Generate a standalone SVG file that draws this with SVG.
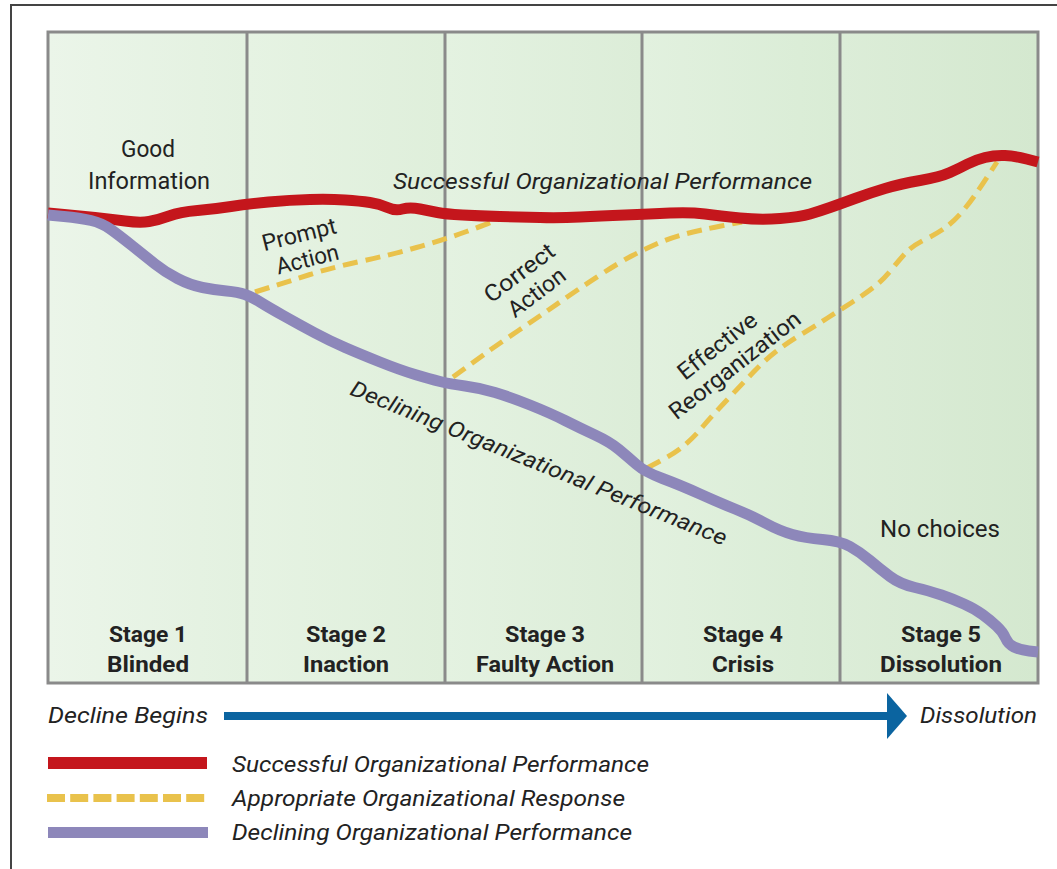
<svg xmlns="http://www.w3.org/2000/svg" width="1057" height="869" viewBox="0 0 1057 869">
  <style>
    text { font-family: Roboto, "Liberation Sans", sans-serif; fill: #222; }
    .lbl { font-size: 23px; }
    .it { font-size: 22px; font-style: italic; }
    .stage { font-size: 22px; font-weight: bold; text-anchor: middle; }
    .mid { text-anchor: middle; }
    .divider { stroke: #8a8a8a; stroke-width: 3; }
    .success { fill: none; stroke: #c4161c; stroke-width: 11; stroke-linejoin: round; stroke-linecap: butt; }
    .decline { fill: none; stroke: #8d87ba; stroke-width: 11; stroke-linejoin: round; stroke-linecap: butt; }
    .response { fill: none; stroke: #e9c24c; stroke-width: 5; stroke-dasharray: 15 8; stroke-linejoin: round; }
  </style>
  <defs>
    <linearGradient id="colA" x1="0" y1="0" x2="1" y2="0">
      <stop offset="0" stop-color="#ebf5e9"/>
      <stop offset="1" stop-color="#e3f1e0"/>
    </linearGradient>
    <linearGradient id="colB" x1="0" y1="0" x2="1" y2="0">
      <stop offset="0" stop-color="#e6f3e3"/>
      <stop offset="1" stop-color="#dfefdb"/>
    </linearGradient>
    <linearGradient id="colC" x1="0" y1="0" x2="1" y2="0">
      <stop offset="0" stop-color="#e4f2e1"/>
      <stop offset="1" stop-color="#dcedd8"/>
    </linearGradient>
    <linearGradient id="colD" x1="0" y1="0" x2="1" y2="0">
      <stop offset="0" stop-color="#e2f1df"/>
      <stop offset="1" stop-color="#d9ecd5"/>
    </linearGradient>
    <linearGradient id="colE" x1="0" y1="0" x2="1" y2="0">
      <stop offset="0" stop-color="#dcedd8"/>
      <stop offset="1" stop-color="#d4e8cf"/>
    </linearGradient>
  </defs>

  <rect width="1057" height="869" fill="#ffffff"/>
  <!-- outer frame -->
  <rect x="11" y="5" width="1100" height="900" fill="none" stroke="#444" stroke-width="2"/>

  <!-- stage columns -->
  <g id="columns">
    <rect x="48" y="32" width="199" height="651" fill="url(#colA)"/>
    <rect x="247" y="32" width="198" height="651" fill="url(#colB)"/>
    <rect x="445" y="32" width="197" height="651" fill="url(#colC)"/>
    <rect x="642" y="32" width="198" height="651" fill="url(#colD)"/>
    <rect x="840" y="32" width="198" height="651" fill="url(#colE)"/>
    <line class="divider" x1="247" y1="32" x2="247" y2="683"/>
    <line class="divider" x1="445" y1="32" x2="445" y2="683"/>
    <line class="divider" x1="642" y1="32" x2="642" y2="683"/>
    <line class="divider" x1="840" y1="32" x2="840" y2="683"/>
    <rect x="48" y="32" width="990" height="651" fill="none" stroke="#8a8a8a" stroke-width="3"/>
  </g>

  <!-- performance curves -->
  <g id="connectors">
    <path id="prompt-action" class="response" d="M255,292 L272.5,286.5 Q290,281 310,274.5 Q330,268 360,261.5 Q390,255 416.5,247.5 Q443,240 466.5,231.5 Q490,223 496,220 L502,217"/>
    <path id="correct-action" class="response" d="M453,377 L464,369 Q475,361 486,353 Q497,345 518.5,330.5 Q540,316 560,302 Q580,288 600,275 Q620,262 632.5,255.5 Q645,249 657.5,243.5 Q670,238 685,234 Q700,230 721,226 L742,222"/>
    <path id="effective-reorganization" class="response" d="M647,468 L662,460 Q677,452 686,444 Q695,436 702.5,427 Q710,418 726.5,400.5 Q743,383 754,371.5 Q765,360 776,351.5 Q787,343 801,334.5 Q815,326 827.5,318 Q840,310 852.5,302 Q865,294 874,287 Q883,280 891.5,269.5 Q900,259 906,252.5 Q912,246 926,239 Q940,232 947.5,226 Q955,220 961.5,212.5 Q968,205 974,196.5 Q980,188 988.5,175 L997,162"/>

    <path id="successful-performance" class="success" d="M48,213 L64,214.5 Q80,216 95,217.5 Q110,219 125,221 Q140,223 149,221.5 Q158,220 169,216 Q180,212 197.5,210.5 Q215,209 231,206.5 Q247,204 268.5,202 Q290,200 310,199.5 Q330,199 345,200 Q360,201 370,202.5 Q380,204 387.5,207.5 Q395,211 402.5,209 Q410,207 420,209 Q430,211 437.5,212.5 Q445,214 462.5,215 Q480,216 500,216.5 Q520,217 540,217.5 Q560,218 580,217 Q600,216 625,215 Q650,214 670,213 Q690,212 705,214 Q720,216 740,218 Q760,220 780,218.5 Q800,217 810,214 Q820,211 830,207.5 Q840,204 855,198.5 Q870,193 885,188.5 Q900,184 920,180.5 Q940,177 950,172.5 Q960,168 967.5,164 Q975,160 985,157.5 Q995,155 1005,155.5 Q1015,156 1026.5,159 L1038,162"/>

    <path id="declining-performance" class="decline" d="M48,215 L64,216.5 Q80,218 91,220.5 Q102,223 111,229.5 Q120,236 132.5,246 Q145,256 155,264 Q165,272 177.5,278.5 Q190,285 202.5,287.5 Q215,290 226.5,291 Q238,292 245,294.5 Q252,297 260,302 Q268,307 284,316 Q300,325 315,333 Q330,341 345,347.5 Q360,354 380,362 Q400,370 415,374.5 Q430,379 440,381.5 Q450,384 465,386 Q480,388 495,392.5 Q510,397 530,405 Q550,413 565,420.5 Q580,428 595,435 Q610,442 619,449.5 Q628,457 636.5,464.5 Q645,472 662.5,478.5 Q680,485 700,494 Q720,503 735,509 Q750,515 765,523 Q780,531 792.5,534.5 Q805,538 822.5,539.5 Q840,541 850,546.5 Q860,552 870,560.5 Q880,569 890,576.5 Q900,584 915,587.5 Q930,591 941.5,595 Q953,599 964,604 Q975,609 982.5,614.5 Q990,620 996.5,626 Q1003,632 1005.5,638 Q1008,644 1014,647 Q1020,650 1029,651 L1038,652"/>
  </g>

  <!-- curve labels -->
  <g id="label-good-information">
    <text class="lbl mid" x="148" y="157" textLength="54" lengthAdjust="spacingAndGlyphs">Good</text>
    <text class="lbl mid" x="149" y="189" textLength="122" lengthAdjust="spacingAndGlyphs">Information</text>
  </g>
  <g id="label-successful">
    <text class="it" x="393" y="189" textLength="419" lengthAdjust="spacingAndGlyphs">Successful Organizational Performance</text>
  </g>
  <g id="label-prompt-action" transform="translate(301,242) rotate(-14)">
    <text class="lbl mid" x="0" y="0" font-size="21" textLength="76" lengthAdjust="spacingAndGlyphs">Prompt</text>
    <text class="lbl mid" x="2" y="26" font-size="21" textLength="64" lengthAdjust="spacingAndGlyphs">Action</text>
  </g>
  <g id="label-correct-action" transform="translate(524,279) rotate(-37)">
    <text class="lbl mid" x="0" y="0" font-size="21" textLength="82" lengthAdjust="spacingAndGlyphs">Correct</text>
    <text class="lbl mid" x="2" y="26" font-size="21" textLength="66" lengthAdjust="spacingAndGlyphs">Action</text>
  </g>
  <g id="label-effective-reorganization" transform="translate(722,352) rotate(-38)">
    <text class="lbl mid" x="0" y="0" font-size="21" textLength="94" lengthAdjust="spacingAndGlyphs">Effective</text>
    <text class="lbl mid" x="2" y="26" font-size="21" textLength="160" lengthAdjust="spacingAndGlyphs">Reorganization</text>
  </g>
  <g id="label-declining" transform="translate(536,470) rotate(22)">
    <text class="it mid" x="0" y="0" textLength="404" lengthAdjust="spacingAndGlyphs">Declining Organizational Performance</text>
  </g>
  <g id="label-no-choices">
    <text class="lbl mid" x="940" y="537" textLength="120" lengthAdjust="spacingAndGlyphs">No choices</text>
  </g>

  <!-- stage names -->
  <g id="stage-1">
    <text class="stage" x="148" y="642" textLength="78" lengthAdjust="spacingAndGlyphs">Stage 1</text>
    <text class="stage" x="148" y="672" textLength="82" lengthAdjust="spacingAndGlyphs">Blinded</text>
  </g>
  <g id="stage-2">
    <text class="stage" x="346" y="642" textLength="80" lengthAdjust="spacingAndGlyphs">Stage 2</text>
    <text class="stage" x="346" y="672" textLength="86" lengthAdjust="spacingAndGlyphs">Inaction</text>
  </g>
  <g id="stage-3">
    <text class="stage" x="545" y="642" textLength="80" lengthAdjust="spacingAndGlyphs">Stage 3</text>
    <text class="stage" x="545" y="672" textLength="138" lengthAdjust="spacingAndGlyphs">Faulty Action</text>
  </g>
  <g id="stage-4">
    <text class="stage" x="743" y="642" textLength="80" lengthAdjust="spacingAndGlyphs">Stage 4</text>
    <text class="stage" x="743" y="672" textLength="62" lengthAdjust="spacingAndGlyphs">Crisis</text>
  </g>
  <g id="stage-5">
    <text class="stage" x="941" y="642" textLength="80" lengthAdjust="spacingAndGlyphs">Stage 5</text>
    <text class="stage" x="941" y="672" textLength="122" lengthAdjust="spacingAndGlyphs">Dissolution</text>
  </g>

  <!-- timeline arrow -->
  <g id="timeline">
    <text class="it" x="48" y="723" textLength="160" lengthAdjust="spacingAndGlyphs">Decline Begins</text>
    <rect x="224" y="712" width="666" height="8" fill="#0b64a0"/>
    <polygon points="887,693 907,716 887,739" fill="#0b64a0"/>
    <text class="it" x="920" y="723" textLength="117" lengthAdjust="spacingAndGlyphs">Dissolution</text>
  </g>

  <!-- legend -->
  <g id="legend">
    <rect x="48" y="757" width="159" height="12" fill="#c4161c"/>
    <line x1="47" y1="798" x2="208" y2="798" stroke="#e9c24c" stroke-width="8" stroke-dasharray="18 5.2"/>
    <rect x="48" y="827" width="160" height="11" fill="#8d87ba"/>
    <text class="it" x="232" y="772" textLength="417" lengthAdjust="spacingAndGlyphs">Successful Organizational Performance</text>
    <text class="it" x="232" y="806" textLength="393" lengthAdjust="spacingAndGlyphs">Appropriate Organizational Response</text>
    <text class="it" x="232" y="840" textLength="400" lengthAdjust="spacingAndGlyphs">Declining Organizational Performance</text>
  </g>
</svg>
